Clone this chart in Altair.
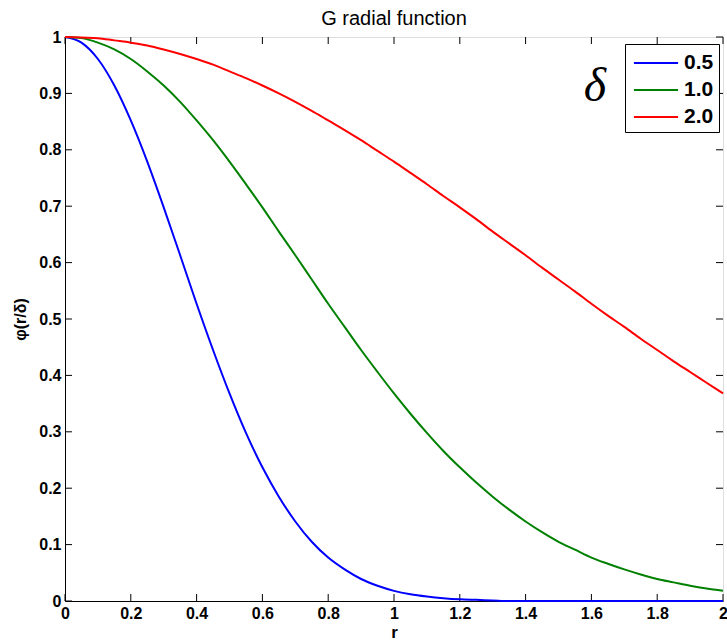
import altair as alt
import pandas as pd

# ---- data ----
r_values = [0.00, 0.05, 0.10, 0.15, 0.20, 0.25, 0.30, 0.35, 0.40, 0.45,
            0.50, 0.55, 0.60, 0.65, 0.70, 0.75, 0.80, 0.85, 0.90, 0.95,
            1.00, 1.05, 1.10, 1.15, 1.20, 1.25, 1.30, 1.35, 1.40, 1.45,
            1.50, 1.55, 1.60, 1.65, 1.70, 1.75, 1.80, 1.85, 1.90, 1.95, 2.00]

phi_05 = [1.000, 0.990, 0.961, 0.914, 0.852, 0.779, 0.698, 0.613, 0.527, 0.445,
          0.368, 0.298, 0.237, 0.185, 0.141, 0.105, 0.077, 0.056, 0.039, 0.027,
          0.018, 0.012, 0.008, 0.005, 0.003, 0.002, 0.001, 0.000, 0.000, 0.000,
          0.000, 0.000, 0.000, 0.000, 0.000, 0.000, 0.000, 0.000, 0.000, 0.000, 0.000]

phi_10 = [1.000, 0.998, 0.990, 0.978, 0.961, 0.939, 0.914, 0.885, 0.852, 0.817,
          0.779, 0.739, 0.698, 0.655, 0.613, 0.570, 0.527, 0.486, 0.445, 0.406,
          0.368, 0.332, 0.298, 0.266, 0.237, 0.210, 0.185, 0.162, 0.141, 0.122,
          0.105, 0.091, 0.077, 0.066, 0.056, 0.047, 0.039, 0.033, 0.027, 0.022, 0.018]

phi_20 = [1.000, 0.999, 0.998, 0.994, 0.990, 0.985, 0.978, 0.970, 0.961, 0.951,
          0.939, 0.927, 0.914, 0.900, 0.885, 0.869, 0.852, 0.835, 0.817, 0.798,
          0.779, 0.759, 0.739, 0.718, 0.698, 0.677, 0.655, 0.634, 0.613, 0.591,
          0.570, 0.549, 0.527, 0.506, 0.486, 0.465, 0.445, 0.425, 0.406, 0.387, 0.368]

deltas = ["0.5", "1.0", "2.0"]
colors = ["#0000ff", "#008000", "#ff0000"]

x_ticks = [0, 0.2, 0.4, 0.6, 0.8, 1.0, 1.2, 1.4, 1.6, 1.8, 2.0]
y_ticks = [0, 0.1, 0.2, 0.3, 0.4, 0.5, 0.6, 0.7, 0.8, 0.9, 1.0]

title_text = "G radial function"
x_title = "r"
y_title = "φ(r/δ)"
legend_symbol = "δ"

# ---- build table ----
rows = []
for d, vals in zip(deltas, [phi_05, phi_10, phi_20]):
    for r, v in zip(r_values, vals):
        rows.append({"r": r, "phi": v, "delta": d})
df = pd.DataFrame(rows)
xt = pd.DataFrame({"t": x_ticks})
yt = pd.DataFrame({"t": y_ticks})

W, H = 658, 564
TL = 7
FONT = "Liberation Sans"

xs = alt.Scale(domain=[0, 2], nice=False, zero=False)
ys = alt.Scale(domain=[0, 1], nice=False, zero=False)

x_axis = alt.Axis(values=x_ticks, format="~g", title=x_title, ticks=False, grid=False,
                  labelFlush=False, labelFont=FONT, labelFontWeight="bold", labelFontSize=16,
                  labelColor="black", labelPadding=4, titleFont=FONT, titleFontWeight="bold",
                  titleFontSize=17, titleColor="black", titlePadding=3,
                  domainColor="black", labelOverlap=False)
y_axis = alt.Axis(values=y_ticks, format="~g", title=y_title, ticks=False, grid=False,
                  labelFlush=False, labelFont=FONT, labelFontWeight="bold", labelFontSize=16,
                  labelColor="black", labelPadding=4, titleFont=FONT, titleFontWeight="bold",
                  titleFontSize=16, titleColor="black", titlePadding=10,
                  domainColor="black", labelOverlap=False)

lines = alt.Chart(df).mark_line(strokeWidth=2, interpolate="monotone").encode(
    x=alt.X("r:Q", scale=xs, axis=x_axis),
    y=alt.Y("phi:Q", scale=ys, axis=y_axis),
    color=alt.Color(
        "delta:N",
        scale=alt.Scale(domain=deltas, range=colors),
        legend=alt.Legend(
            title=None, orient="none", legendX=560, legendY=7,
            strokeColor="black", fillColor="white", padding=5, cornerRadius=0,
            symbolType="M-1.7,0H1.7", symbolSize=676, symbolStrokeWidth=2,
            symbolOffset=12,
            labelFont=FONT, labelFontWeight="bold", labelFontSize=21,
            labelColor="black", labelOffset=14, rowPadding=3,
        ),
    ),
    detail="delta:N",
)

tick_bottom = alt.Chart(xt).mark_rule(color="black", strokeWidth=1).encode(
    x=alt.X("t:Q", scale=xs, axis=x_axis), y=alt.value(H), y2=alt.value(H - TL))
tick_top = alt.Chart(xt).mark_rule(color="black", strokeWidth=1).encode(
    x=alt.X("t:Q", scale=xs, axis=x_axis), y=alt.value(0), y2=alt.value(TL))
tick_left = alt.Chart(yt).mark_rule(color="black", strokeWidth=1).encode(
    y=alt.Y("t:Q", scale=ys, axis=y_axis), x=alt.value(0), x2=alt.value(TL))
tick_right = alt.Chart(yt).mark_rule(color="black", strokeWidth=1).encode(
    y=alt.Y("t:Q", scale=ys, axis=y_axis), x=alt.value(W - TL), x2=alt.value(W))

delta_label = alt.Chart(pd.DataFrame({"s": [legend_symbol]})).mark_text(
    font="Liberation Serif", fontStyle="italic", fontSize=48, color="black",
    align="center", baseline="middle",
).encode(text="s:N", x=alt.value(530), y=alt.value(50))

chart = alt.layer(tick_bottom, tick_top, tick_left, tick_right, lines, delta_label).properties(
    width=W, height=H,
    title=alt.Title(title_text, font=FONT, fontSize=20, fontWeight="normal",
                    color="black", anchor="middle", offset=0),
    autosize=alt.AutoSizeParams(type="none"),
    padding={"left": 65, "top": 37, "right": 4, "bottom": 42},
).configure_view(
    stroke="black", strokeWidth=1
).configure(background="white")

chart.save("out.html", embed_options={"renderer": "svg", "actions": False})
